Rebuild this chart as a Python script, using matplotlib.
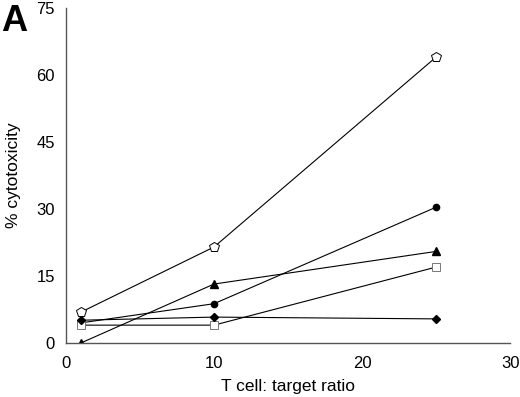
import matplotlib
matplotlib.use("Agg")
import matplotlib.pyplot as plt

plt.rcParams['font.family'] = ['Liberation Sans', 'DejaVu Sans']

ratio = [1, 10, 25]
pentagon = [6.9, 21.5, 64.0]
circle = [4.5, 8.8, 30.4]
triangle = [0.0, 13.2, 20.5]
square = [4.0, 4.0, 17.0]
diamond = [5.1, 5.8, 5.4]

fig = plt.figure(figsize=(5.2, 3.97), dpi=100)
ax = fig.add_axes([0.127, 0.136, 0.854, 0.844])

ax.plot(ratio, pentagon, color='black', lw=0.8, marker='p', ms=7, mfc='white', mec='black', mew=0.7)
ax.plot(ratio, circle, color='black', lw=0.8, marker='o', ms=4.5, mfc='black', mec='black')
ax.plot(ratio, triangle, color='black', lw=0.8, marker='^', ms=6, mfc='black', mec='black')
ax.plot(ratio, square, color='black', lw=0.8, marker='s', ms=6, mfc='white', mec='#777777', mew=0.7)
ax.plot(ratio, diamond, color='black', lw=0.8, marker='D', ms=4.5, mfc='black', mec='black')

ax.set_xlim(0, 30)
ax.set_ylim(0, 75)
ax.set_xticks([0, 10, 20, 30])
ax.set_yticks([0, 15, 30, 45, 60, 75])
ax.tick_params(axis='x', length=0, labelsize=12, pad=9)
ax.tick_params(axis='y', length=0, labelsize=12, pad=8)
for s in ['top', 'right']:
    ax.spines[s].set_visible(False)
for s in ['left', 'bottom']:
    ax.spines[s].set_color('#555555')
    ax.spines[s].set_linewidth(1.0)
for lbl in ax.get_xticklabels() + ax.get_yticklabels():
    lbl.set_clip_on(False)

ax.set_xlabel("T cell: target ratio", fontsize=12.5, labelpad=6)
ax.set_ylabel("% cytotoxicity", fontsize=12.5, labelpad=11)
fig.text(0.002, 0.99, "A", fontsize=26, fontweight='bold', va='top', ha='left')

fig.savefig("out.png", dpi=100)
